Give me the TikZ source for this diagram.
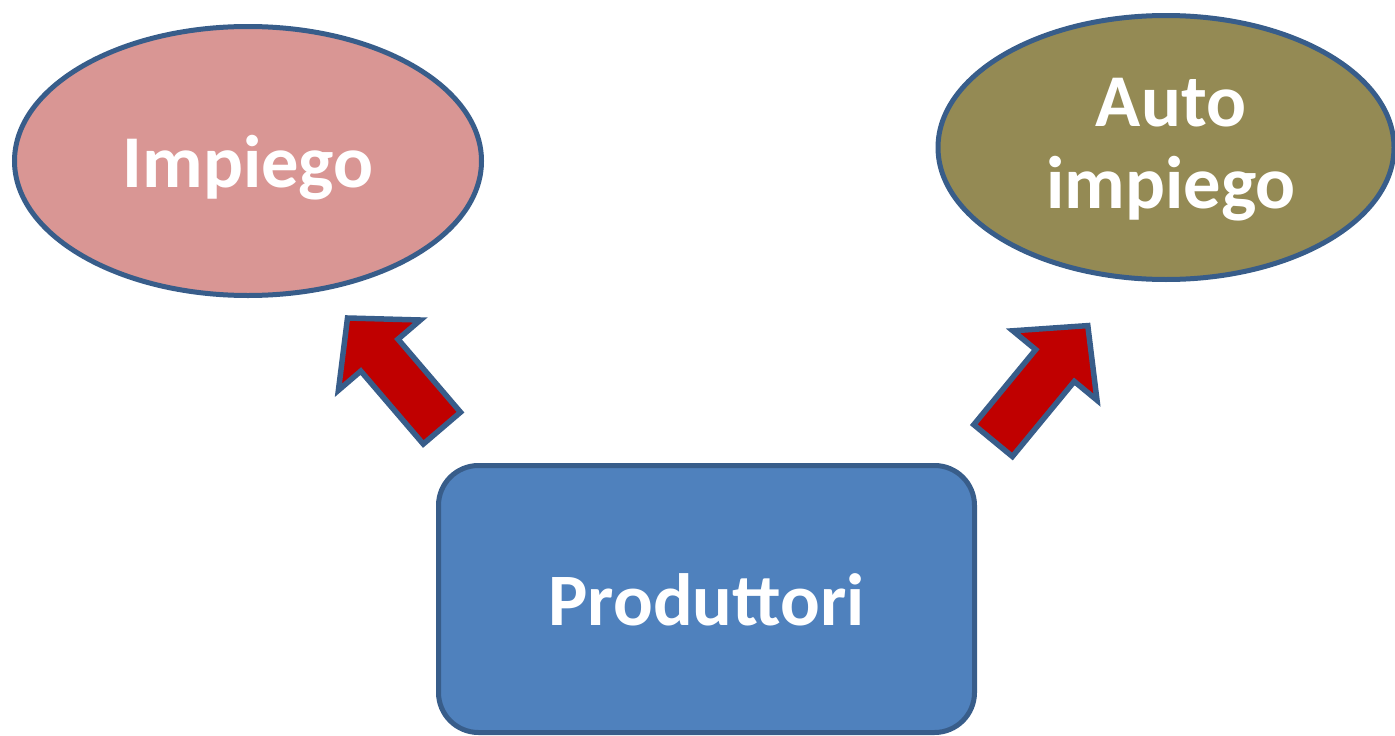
\documentclass[tikz,border=0pt]{standalone}
\usepackage{fontspec}
\setmainfont{Carlito}
\usetikzlibrary{shapes.geometric}
\definecolor{bordercol}{HTML}{385D8A}
\definecolor{pinkfill}{HTML}{D99694}
\definecolor{olivefill}{HTML}{948A54}
\definecolor{bluefill}{HTML}{4F81BD}
\definecolor{redfill}{HTML}{C00000}
\tikzset{
  bubble/.style={ellipse, draw=bordercol, line width=5pt, inner sep=0pt,
    text=white, font=\bfseries\fontsize{74.5}{82}\selectfont, align=center},
  boxnode/.style={rectangle, rounded corners=40pt, draw=bordercol, line width=5pt,
    fill=bluefill, inner sep=0pt, text=white, font=\bfseries\fontsize{74}{82}\selectfont},
  blockarrow/.style={draw=bordercol, fill=redfill, line width=5.5pt, line join=miter}
}
\begin{document}
\begin{tikzpicture}[x=1pt,y=-1pt]
\useasboundingbox (0,0) rectangle (1395,736);
\node[bubble, fill=pinkfill, minimum width=467pt, minimum height=269pt,
  text height=52pt, text depth=0pt] (impiego) at (248,161) {Impiego};
\node[bubble, fill=olivefill, minimum width=456pt, minimum height=264pt,
  text depth=8pt] (auto) at (1166,147.5) {\hspace*{10pt}Auto\\\hspace*{10pt}impiego};
\node[boxnode, minimum width=536pt, minimum height=267pt,
  text height=52pt, text depth=0pt] (prod) at (706.5,599) {Produttori};
% left block arrow
\draw[blockarrow] (460.5,412.2) -- (398.0,339.2) -- (420.4,320.0) -- (347.5,318.0)
  -- (338.4,390.3) -- (360.8,371.1) -- (423.3,444.0) -- cycle;
% right block arrow
\draw[blockarrow] (973.8,424.7) -- (1035.7,349.6) -- (1012.9,330.8) -- (1087.8,325.6)
  -- (1097.0,400.2) -- (1074.3,381.4) -- (1012.4,456.5) -- cycle;
\end{tikzpicture}
\end{document}
